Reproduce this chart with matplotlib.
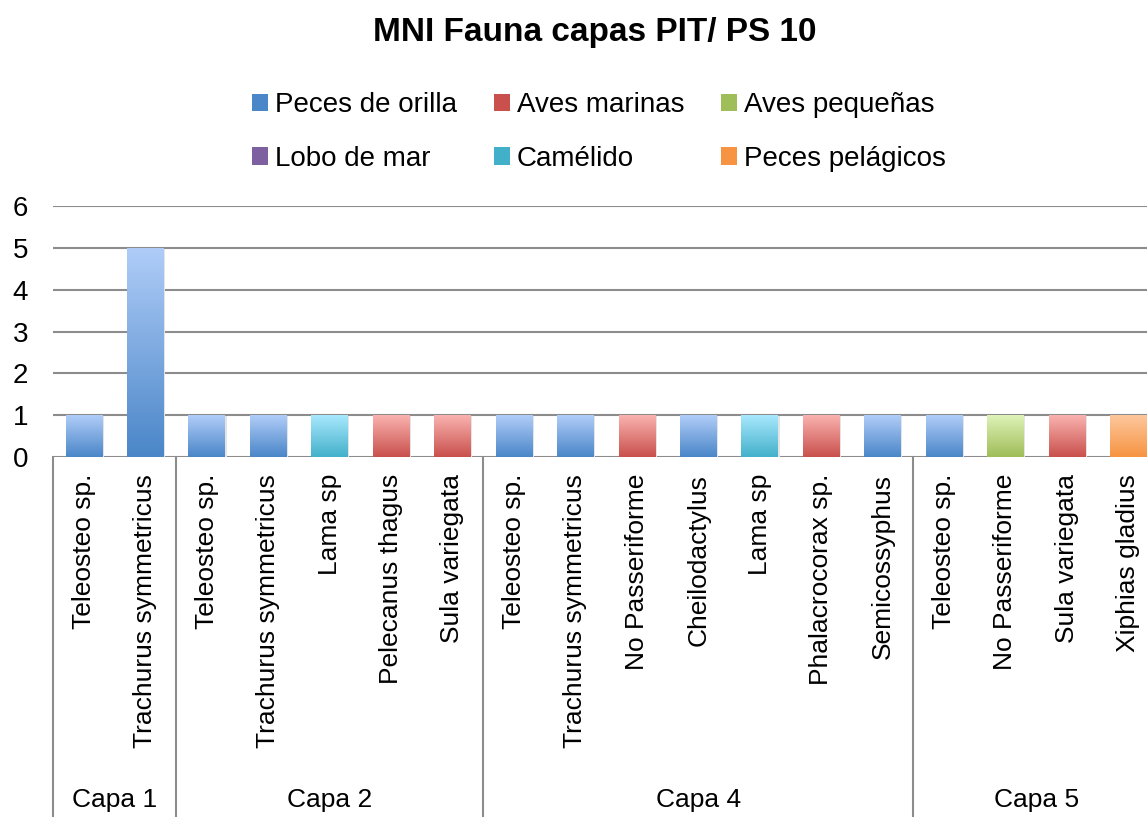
import numpy as np
import matplotlib
matplotlib.use("Agg")
import matplotlib.pyplot as plt
from matplotlib.patches import Patch
from matplotlib.colors import LinearSegmentedColormap
from matplotlib.transforms import blended_transform_factory

plt.rcParams['font.family'] = ['Liberation Sans', 'DejaVu Sans']

# data
capas = ["Capa 1", "Capa 2", "Capa 4", "Capa 5"]
capa_counts = [2, 5, 7, 4]
taxa = ["Teleosteo sp.", "Trachurus symmetricus",
        "Teleosteo sp.", "Trachurus symmetricus", "Lama sp", "Pelecanus thagus", "Sula variegata",
        "Teleosteo sp.", "Trachurus symmetricus", "No Passeriforme", "Cheilodactylus", "Lama sp",
        "Phalacrocorax sp.", "Semicossyphus",
        "Teleosteo sp.", "No Passeriforme", "Sula variegata", "Xiphias gladius"]
grupo = ["Peces de orilla", "Peces de orilla",
         "Peces de orilla", "Peces de orilla", "Camélido", "Aves marinas", "Aves marinas",
         "Peces de orilla", "Peces de orilla", "Aves marinas", "Peces de orilla", "Camélido",
         "Aves marinas", "Peces de orilla",
         "Peces de orilla", "Aves pequeñas", "Aves marinas", "Peces pelágicos"]
mni = [1, 5,
       1, 1, 1, 1, 1,
       1, 1, 1, 1, 1, 1, 1,
       1, 1, 1, 1]
series = ["Peces de orilla", "Aves marinas", "Aves pequeñas",
          "Lobo de mar", "Camélido", "Peces pelágicos"]

# (top, bottom) gradient colours per series
COLORS = {
    "Peces de orilla": ("#b0cdf8", "#4a86c8"),
    "Aves marinas": ("#fab3b0", "#c9504c"),
    "Aves pequeñas": ("#def2b8", "#9fbd58"),
    "Lobo de mar": ("#cbbde2", "#7d60a0"),
    "Camélido": ("#a8e8fd", "#43b0ca"),
    "Peces pelágicos": ("#fdc79c", "#f79442"),
}

W, H = 1147, 817
fig = plt.figure(figsize=(W / 100, H / 100), dpi=100)
ax = fig.add_axes([53 / W, (H - 457) / H, 1106 / W, 251 / H])

x = np.arange(len(taxa))
bars = ax.bar(x, mni, width=0.59, color="none", zorder=3)

grad = np.linspace(0, 1, 256).reshape(-1, 1)
for bar, g in zip(bars, grupo):
    top, bot = COLORS[g]
    cmap = LinearSegmentedColormap.from_list(g, [bot, top])
    x0, w, h = bar.get_x(), bar.get_width(), bar.get_height()
    # soft shadow
    ax.bar(x0 + w / 2 + 0.03, h, width=w, bottom=-0.02, color="#e4e4e4", zorder=2)
    im = ax.imshow(grad, cmap=cmap, origin="lower", aspect="auto",
                   extent=[x0, x0 + w, 0, h], zorder=3)
    im.set_clip_path(bar)

ax.set_xlim(-0.5, len(taxa) - 0.5)
ax.set_ylim(0, 6)
ax.set_yticks(range(7))
ax.tick_params(axis="y", length=0, pad=18, labelsize=20)
ax.set_xticks(x)
ax.set_xticklabels(taxa, rotation=90, va="top", ha="center", fontsize=19)
ax.tick_params(axis="x", length=0, pad=12)
ax.grid(axis="y", color="#8c8c8c", linewidth=1.5, zorder=0)
for s in ax.spines.values():
    s.set_visible(False)

# group separators and capa labels under the axis
edges = np.concatenate([[0], np.cumsum(capa_counts)]) - 0.5
sep = blended_transform_factory(ax.transData, ax.transAxes)
for e in edges:
    ax.plot([e, e], [0, -1.6], color="#8c8c8c", linewidth=1.5, clip_on=False,
            transform=sep, zorder=1)
trans = blended_transform_factory(ax.transData, fig.transFigure)
for i, c in enumerate(capas):
    mid = (edges[i] + edges[i + 1]) / 2
    ax.text(mid, (H - 800) / H, c, transform=trans, ha="center", va="center", fontsize=19)

fig.text(595 / W, 1 - 32 / H, "MNI Fauna capas PIT/ PS 10", ha="center", va="center",
         fontsize=24, fontweight="bold")

# legend, filled row by row
order = [0, 3, 1, 4, 2, 5]
handles = [Patch(facecolor=COLORS[series[i]][1], label=series[i]) for i in order]
fig.legend(handles=handles, ncol=3, loc="center", bbox_to_anchor=(599 / W, 1 - 132 / H),
           frameon=False, fontsize=20, handlelength=0.6, handleheight=0.6,
           handletextpad=0.25, columnspacing=1.3, labelspacing=1.0)

fig.savefig("out.png", dpi=100)
